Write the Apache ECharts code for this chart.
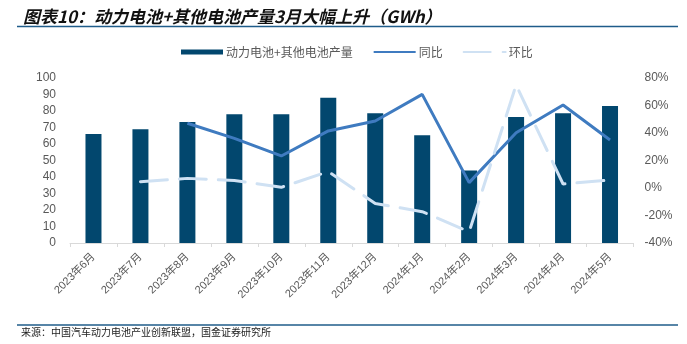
<!DOCTYPE html>
<html>
<head>
<meta charset="utf-8">
<script src="https://cdn.jsdelivr.net/npm/echarts@6/dist/echarts.min.js"></script>
<style>
html,body{margin:0;padding:0;background:#fff;}
#chart{width:687px;height:344px;}
</style>
</head>
<body>
<div id="chart"></div>
<script>
const categories = ['2023年6月','2023年7月','2023年8月','2023年9月','2023年10月','2023年11月','2023年12月','2024年1月','2024年2月','2024年3月','2024年4月','2024年5月'];
const production = [66, 69, 73.3, 78, 78, 88, 78.6, 65.3, 44, 76.4, 78.6, 83];
const yoy = [null, null, 47.1, 36.1, 23.3, 41.5, 48.7, 68.1, 3.9, 40.2, 60.4, 34.9];
const mom = [null, 4.6, 7.0, 5.5, 0.5, 11.9, -11.2, -17.2, -31.8, 74.9, 2.9, 5.8];
const leftTicks = {min: 0, max: 100, interval: 10};
const rightTicks = {min: -40, max: 80, interval: 20};
const seriesNames = ['动力电池+其他电池产量', '同比', '环比'];
const titleText = '图表10：动力电池+其他电池产量3月大幅上升（GWh）';
const sourceText = '来源：中国汽车动力电池产业创新联盟，国金证券研究所';

const chart = echarts.init(document.getElementById('chart'), null, {renderer: 'canvas'});
const labelColor = '#595959';
const sansFont = '"Liberation Sans", Arial, "Noto Sans CJK SC", sans-serif';
chart.setOption({
  animation: false,
  backgroundColor: '#fff',
  title: {
    text: titleText,
    left: 18,
    top: 3,
    textStyle: {
      fontSize: 17,
      fontWeight: 'bold',
      fontStyle: 'italic',
      color: '#111',
      fontFamily: '"Noto Sans CJK SC", sans-serif'
    }
  },
  graphic: [
    {type: 'line', shape: {x1: 17, y1: 26.5, x2: 678, y2: 26.5}, style: {stroke: '#1F5C8A', lineWidth: 1.5}},
    {type: 'line', shape: {x1: 17, y1: 325, x2: 678, y2: 325}, style: {stroke: '#1F5C8A', lineWidth: 1.5}},
    {type: 'text', left: 21, top: 327, style: {text: sourceText, fontSize: 10, fill: '#222', fontFamily: '"Noto Sans CJK SC", serif'}}
  ],
  legend: {
    left: 176,
    top: 41,
    itemWidth: 42,
    itemHeight: 5,
    itemGap: 20,
    textStyle: {fontSize: 12, color: labelColor, fontFamily: '"Noto Sans CJK SC", sans-serif', padding: [0, 0, 0, -2]},
    data: [
      {name: seriesNames[0], icon: 'rect'},
      {name: seriesNames[1], itemStyle: {opacity: 0}},
      {name: seriesNames[2], itemStyle: {opacity: 0}}
    ]
  },
  grid: {left: 70, right: 53.5, top: 78, bottom: 101, containLabel: false},
  xAxis: {
    type: 'category',
    data: categories,
    axisLine: {lineStyle: {color: '#D9D9D9', width: 1}},
    axisTick: {show: true, length: 4, lineStyle: {color: '#D9D9D9'}},
    axisLabel: {rotate: 45, fontSize: 11, color: labelColor, margin: 12, fontFamily: sansFont, interval: 0}
  },
  yAxis: [
    {
      type: 'value', min: leftTicks.min, max: leftTicks.max, interval: leftTicks.interval,
      axisLine: {show: false}, axisTick: {show: false}, splitLine: {show: false},
      axisLabel: {fontSize: 12, color: labelColor, margin: 14, fontFamily: sansFont}
    },
    {
      type: 'value', min: rightTicks.min, max: rightTicks.max, interval: rightTicks.interval,
      axisLine: {show: false}, axisTick: {show: false}, splitLine: {show: false},
      axisLabel: {fontSize: 12, color: labelColor, margin: 11, fontFamily: sansFont, formatter: '{value}%'}
    }
  ],
  series: [
    {
      name: seriesNames[0], type: 'bar', data: production, barWidth: 16,
      itemStyle: {color: '#02476E'}
    },
    {
      name: seriesNames[1], type: 'line', yAxisIndex: 1, data: yoy, symbol: 'none',
      lineStyle: {color: '#3F7BC0', width: 3}, itemStyle: {color: '#3F7BC0'}
    },
    {
      name: seriesNames[2], type: 'line', yAxisIndex: 1, data: mom, symbol: 'none',
      lineStyle: {color: '#CFE1F3', width: 3, type: [27, 12], cap: 'round'}, itemStyle: {color: '#CFE1F3'}
    }
  ]
});
</script>
</body>
</html>
